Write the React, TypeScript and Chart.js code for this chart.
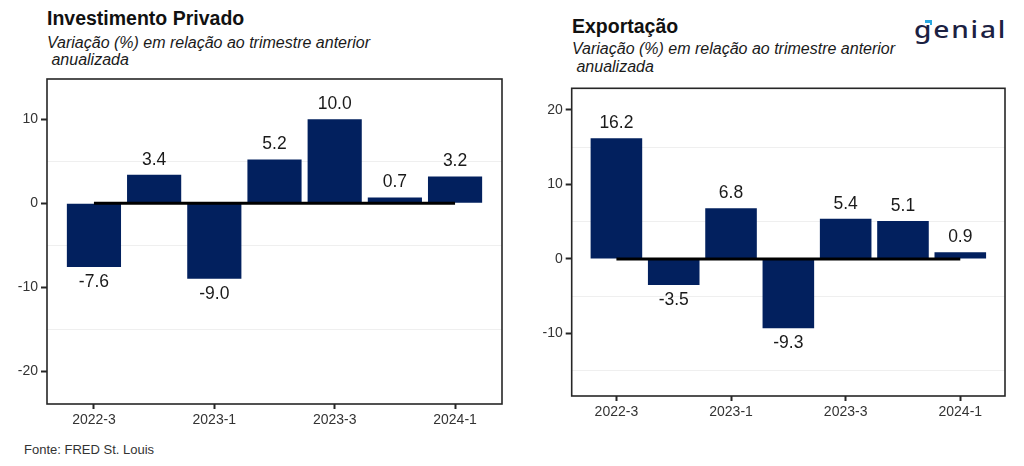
import React, { useEffect, useRef } from "react";
import { Chart, registerables } from "chart.js";

Chart.register(...registerables);

const categories = ["2022-3", "2022-4", "2023-1", "2023-2", "2023-3", "2023-4", "2024-1"];
const investimentoValues = [-7.6, 3.4, -9.0, 5.2, 10.0, 0.7, 3.2];
const exportacaoValues = [16.2, -3.5, 6.8, -9.3, 5.4, 5.1, 0.9];
const shownXLabels = ["2022-3", "2023-1", "2023-3", "2024-1"];
const investimentoYTicks = [-20, -10, 0, 10];
const exportacaoYTicks = [-10, 0, 10, 20];
const zeroLineValues = categories.map(() => 0);

const FONT = '"Liberation Sans", Arial, Helvetica, sans-serif';
const BAR_COLOR = "#02205e";

const valueLabelsPlugin = {
  id: "valueLabels",
  afterDatasetsDraw(chart: any) {
    const meta = chart.getDatasetMeta(0);
    const ds = chart.data.datasets[0];
    const ctx = chart.ctx;
    ctx.save();
    ctx.font = `17.5px ${FONT}`;
    ctx.fillStyle = "#1a1a1a";
    ctx.textAlign = "center";
    ctx.textBaseline = "middle";
    meta.data.forEach((el: any, i: number) => {
      const v = ds.data[i].y;
      const y = el.y + (v >= 0 ? -15 : 15);
      ctx.fillText(v.toFixed(1), el.x, y);
    });
    ctx.restore();
  },
};

const framePlugin = {
  id: "frame",
  afterDraw(chart: any) {
    const { left, top, right, bottom } = chart.chartArea;
    const ctx = chart.ctx;
    ctx.save();
    ctx.strokeStyle = "#262626";
    ctx.lineWidth = 1.6;
    ctx.strokeRect(left, top, right - left, bottom - top);
    ctx.restore();
  },
};

type PanelProps = {
  values: number[];
  yMin: number;
  yMax: number;
  yTicks: number[];
  left: number;
  top: number;
  width: number;
  height: number;
  axisWidth: number;
  axisHeight: number;
  padTop: number;
  padRight: number;
};

function Panel(p: PanelProps) {
  const ref = useRef<HTMLCanvasElement | null>(null);
  useEffect(() => {
    if (!ref.current) return;
    const chart = new Chart(ref.current, {
      type: "bar",
      data: {
        datasets: [
          {
            type: "bar",
            data: p.values.map((v, i) => ({ x: i, y: v })),
            backgroundColor: BAR_COLOR,
            borderWidth: 0,
            barPercentage: 0.9,
            categoryPercentage: 1.0,
            order: 1,
          } as any,
          {
            type: "line",
            data: zeroLineValues.map((v, i) => ({ x: i, y: v })),
            borderColor: "#000000",
            borderWidth: 3,
            pointRadius: 0,
            fill: false,
            order: 0,
          } as any,
        ],
      },
      options: {
        animation: false,
        responsive: false,
        maintainAspectRatio: false,
        layout: { padding: { top: p.padTop, right: p.padRight, left: 0, bottom: 0 } },
        plugins: { legend: { display: false }, tooltip: { enabled: false } },
        scales: {
          x: {
            type: "linear",
            min: -0.78,
            max: categories.length - 1 + 0.78,
            offset: false,
            border: { display: false },
            grid: {
              offset: false,
              drawOnChartArea: false,
              drawTicks: true,
              tickLength: 5,
              tickWidth: 2,
              tickColor: (c: any) =>
                c.tick && shownXLabels.includes(categories[Math.round(c.tick.value)]) ? "#262626" : "transparent",
            },
            ticks: {
              stepSize: 1,
              includeBounds: false,
              autoSkip: false,
              maxRotation: 0,
              padding: 3,
              color: "#333333",
              font: { family: FONT, size: 14 },
              callback: (v: any) => {
                const lab = categories[Math.round(Number(v))];
                return lab && shownXLabels.includes(lab) ? lab : "";
              },
            },
            afterFit: (s: any) => {
              s.height = p.axisHeight;
            },
          },
          y: {
            type: "linear",
            min: p.yMin,
            max: p.yMax,
            border: { display: false },
            grid: {
              drawOnChartArea: true,
              drawTicks: true,
              tickLength: 6,
              tickWidth: 2,
              lineWidth: 1,
              color: (c: any) =>
                c.tick && !p.yTicks.includes(c.tick.value) ? "#efefef" : "transparent",
              tickColor: (c: any) =>
                c.tick && p.yTicks.includes(c.tick.value) ? "#262626" : "transparent",
            },
            ticks: {
              stepSize: 5,
              includeBounds: false,
              padding: 3,
              color: "#333333",
              font: { family: FONT, size: 14 },
              callback: (v: any) => (p.yTicks.includes(Number(v)) ? String(v) : ""),
            },
            afterFit: (s: any) => {
              s.width = p.axisWidth;
            },
          },
        },
      } as any,
      plugins: [valueLabelsPlugin, framePlugin],
    });
    return () => chart.destroy();
  }, []);
  return (
    <canvas
      ref={ref}
      width={p.width}
      height={p.height}
      style={{ position: "absolute", left: p.left, top: p.top, width: p.width, height: p.height }}
    />
  );
}

const textBase: React.CSSProperties = {
  position: "absolute",
  fontFamily: FONT,
  color: "#111111",
  whiteSpace: "pre",
  margin: 0,
};

export default function App() {
  return (
    <div style={{ position: "fixed", left: 0, top: 0, width: 1024, height: 466, background: "#ffffff", overflow: "hidden" }}>
      <div style={{ ...textBase, left: 47, top: 7, fontSize: 19.5, fontWeight: 700, lineHeight: "22px" }}>
        Investimento Privado
      </div>
      <div style={{ ...textBase, left: 47, top: 33.75, fontSize: 16, fontStyle: "italic", lineHeight: "17.5px", color: "#1a1a1a" }}>
        {"Variação (%) em relação ao trimestre anterior\n anualizada"}
      </div>

      <div style={{ ...textBase, left: 572, top: 15, fontSize: 19.5, fontWeight: 700, lineHeight: "22px" }}>
        Exportação
      </div>
      <div style={{ ...textBase, left: 572, top: 40.25, fontSize: 16, fontStyle: "italic", lineHeight: "17.5px", color: "#1a1a1a" }}>
        {"Variação (%) em relação ao trimestre anterior\n anualizada"}
      </div>

      <div
        style={{
          ...textBase,
          left: 914,
          top: 17.5,
          fontFamily: '"Noto Sans", Lato, sans-serif',
          fontSize: 23,
          fontWeight: 500,
          lineHeight: "23px",
          color: "#1b2142",
          letterSpacing: 1.5,
          transform: "scaleX(1.22)",
          transformOrigin: "left top",
        }}
      >
        genial
      </div>
      <div style={{ position: "absolute", left: 925, top: 20, width: 7, height: 2.5, background: "#29a8e0" }} />
      <div style={{ position: "absolute", left: 929.5, top: 20, width: 2.5, height: 5, background: "#29a8e0" }} />

      <Panel
        values={investimentoValues}
        yMin={-23.9}
        yMax={14.8}
        yTicks={investimentoYTicks}
        left={0}
        top={60}
        width={512}
        height={380}
        axisWidth={47}
        axisHeight={36}
        padTop={19}
        padRight={10}
      />
      <Panel
        values={exportacaoValues}
        yMin={-18.4}
        yMax={22.9}
        yTicks={exportacaoYTicks}
        left={520}
        top={70}
        width={500}
        height={360}
        axisWidth={51.7}
        axisHeight={34}
        padTop={18.3}
        padRight={15}
      />

      <div style={{ ...textBase, left: 24, top: 442, fontSize: 13, lineHeight: "16px", color: "#333333" }}>
        Fonte: FRED St. Louis
      </div>
    </div>
  );
}
